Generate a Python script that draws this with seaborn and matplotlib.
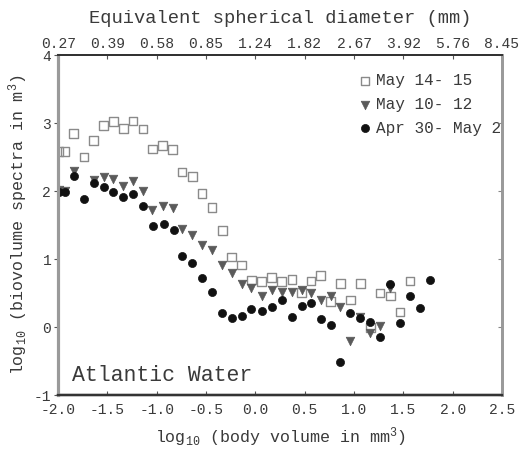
import numpy as np
import pandas as pd
import seaborn as sns
import matplotlib
matplotlib.use("Agg")
import matplotlib.pyplot as plt

# ---- data ----
sq_x = [-1.99, -1.93, -1.845, -1.74, -1.64, -1.54, -1.44, -1.34, -1.24, -1.14, -1.045, -0.94,
        -0.84, -0.745, -0.64, -0.54, -0.44, -0.335, -0.24, -0.14, -0.04, 0.06, 0.165, 0.266,
        0.37, 0.47, 0.563, 0.66, 0.763, 0.864, 0.965, 1.067, 1.168, 1.262, 1.37, 1.465, 1.567]
sq_y = [2.58, 2.58, 2.85, 2.50, 2.74, 2.96, 3.02, 2.92, 3.03, 2.91, 2.62, 2.67,
        2.61, 2.28, 2.21, 1.96, 1.76, 1.42, 1.03, 0.91, 0.69, 0.67, 0.73, 0.67,
        0.70, 0.505, 0.68, 0.76, 0.38, 0.64, 0.40, 0.64, -0.01, 0.50, 0.46, 0.22, 0.68]

tr_x = [-1.99, -1.93, -1.84, -1.64, -1.54, -1.44, -1.34, -1.24, -1.14, -1.045, -0.94, -0.84,
        -0.74, -0.64, -0.54, -0.44, -0.34, -0.24, -0.14, -0.04, 0.064, 0.165, 0.266, 0.37,
        0.47, 0.563, 0.66, 0.763, 0.86, 0.96, 1.06, 1.16, 1.262, 1.364]
tr_y = [2.02, 2.00, 2.30, 2.16, 2.21, 2.18, 2.07, 2.15, 2.00, 1.72, 1.78, 1.75,
        1.44, 1.36, 1.21, 1.13, 0.92, 0.79, 0.64, 0.57, 0.46, 0.54, 0.52, 0.52,
        0.54, 0.50, 0.40, 0.46, 0.29, -0.21, 0.15, -0.09, 0.02, 0.58]

ci_x = [-1.99, -1.93, -1.84, -1.74, -1.64, -1.54, -1.44, -1.34, -1.24, -1.14, -1.035, -0.93,
        -0.83, -0.74, -0.64, -0.54, -0.44, -0.335, -0.235, -0.14, -0.04, 0.064, 0.165, 0.266,
        0.37, 0.47, 0.563, 0.66, 0.763, 0.86, 0.96, 1.063, 1.16, 1.262, 1.364, 1.465, 1.567,
        1.668, 1.77]
ci_y = [1.99, 1.99, 2.22, 1.88, 2.12, 2.06, 1.99, 1.91, 1.96, 1.78, 1.49, 1.51,
        1.43, 1.04, 0.94, 0.72, 0.51, 0.20, 0.14, 0.16, 0.27, 0.24, 0.30, 0.40,
        0.15, 0.31, 0.36, 0.12, 0.03, -0.51, 0.20, 0.14, 0.08, -0.15, 0.64, 0.06, 0.46,
        0.28, 0.69]

labels = ["May 14- 15", "May 10- 12", "Apr 30- May 2"]
x_ticks = [-2.0, -1.5, -1.0, -0.5, 0.0, 0.5, 1.0, 1.5, 2.0, 2.5]
x_ticklabels = ["-2.0", "-1.5", "-1.0", "-0.5", "0.0", "0.5", "1.0", "1.5", "2.0", "2.5"]
top_ticklabels = ["0.27", "0.39", "0.58", "0.85", "1.24", "1.82", "2.67", "3.92", "5.76", "8.45"]
y_ticks = [-1, 0, 1, 2, 3, 4]

sns.set_style("white")
FONT = ["Liberation Mono", "DejaVu Sans Mono"]
plt.rcParams["font.family"] = FONT
plt.rcParams["mathtext.fontset"] = "custom"
plt.rcParams["mathtext.rm"] = "Liberation Mono"
plt.rcParams["mathtext.it"] = "Liberation Mono"
TXT = "#3a3a3a"

fig = plt.figure(figsize=(5.24, 4.49), dpi=100)
ax = fig.add_axes([0.111, 0.12, 0.847, 0.7575])

df_sq = pd.DataFrame({"x": sq_x, "y": sq_y})
df_tr = pd.DataFrame({"x": tr_x, "y": tr_y})
df_ci = pd.DataFrame({"x": ci_x, "y": ci_y})

sns.scatterplot(data=df_sq, x="x", y="y", ax=ax, marker="s", s=38,
                facecolors="none", edgecolor="#8a8a8a", linewidth=1.0, label=labels[0], zorder=3)
sns.scatterplot(data=df_tr, x="x", y="y", ax=ax, marker="v", s=38,
                color="#5a5a5a", edgecolor="#5a5a5a", linewidth=0.5, label=labels[1], zorder=4)
sns.scatterplot(data=df_ci, x="x", y="y", ax=ax, marker="o", s=34,
                color="#111111", edgecolor="#111111", linewidth=0.5, label=labels[2], zorder=5)

ax.set_xlim(-2.0, 2.5)
ax.set_ylim(-1, 4)
ax.set_xticks(x_ticks)
ax.set_xticklabels(x_ticklabels, fontsize=10.5, color=TXT)
ax.set_yticks(y_ticks)
ax.set_yticklabels([str(v) for v in y_ticks], fontsize=10.5, color=TXT)
ax.tick_params(axis="x", direction="in", length=3, width=0.8, colors="#555555", pad=6)
ax.tick_params(axis="y", direction="out", length=3, width=0.8, colors="#555555", pad=2)
for lab in ax.get_xticklabels() + ax.get_yticklabels():
    lab.set_color(TXT)

ax.set_xlabel(r"log$_{10}$ (body volume in mm$^3$)", fontsize=12, color=TXT, labelpad=6)
ax.set_ylabel(r"log$_{10}$ (biovolume spectra in m$^3$)", fontsize=12, color=TXT, labelpad=3)

# top axis
ax2 = ax.twiny()
ax2.set_xlim(ax.get_xlim())
ax2.set_xticks(x_ticks)
ax2.set_xticklabels(top_ticklabels, fontsize=10.5, color=TXT)
ax2.tick_params(axis="x", direction="in", length=3, width=0.8, colors="#555555", pad=3)
for lab in ax2.get_xticklabels():
    lab.set_color(TXT)
ax2.set_xlabel("Equivalent spherical diameter (mm)", fontsize=13.5, color=TXT, labelpad=10)

# right ticks
ax3 = ax.twinx()
ax3.set_ylim(ax.get_ylim())
ax3.set_yticks(y_ticks)
ax3.set_yticklabels([])
ax3.tick_params(axis="y", direction="in", length=3, width=0.8, colors="#888888")

for a in (ax, ax2, ax3):
    a.spines["left"].set_color("#9a9a9a")
    a.spines["left"].set_linewidth(2.2)
    a.spines["bottom"].set_color("#333333")
    a.spines["bottom"].set_linewidth(1.6)
    a.spines["top"].set_color("#333333")
    a.spines["top"].set_linewidth(1.4)
    a.spines["right"].set_color("#9a9a9a")
    a.spines["right"].set_linewidth(1.8)

ax.text(-1.86, -0.71, "Atlantic Water", fontsize=15.5, color=TXT, ha="left", va="center")

leg = ax.legend(loc="upper right", bbox_to_anchor=(1.02, 0.975), frameon=False,
                fontsize=11.5, handletextpad=0.2, labelspacing=0.55, borderaxespad=0.2,
                handlelength=1.0)
for t in leg.get_texts():
    t.set_color(TXT)

fig.savefig("out.png", dpi=100)
